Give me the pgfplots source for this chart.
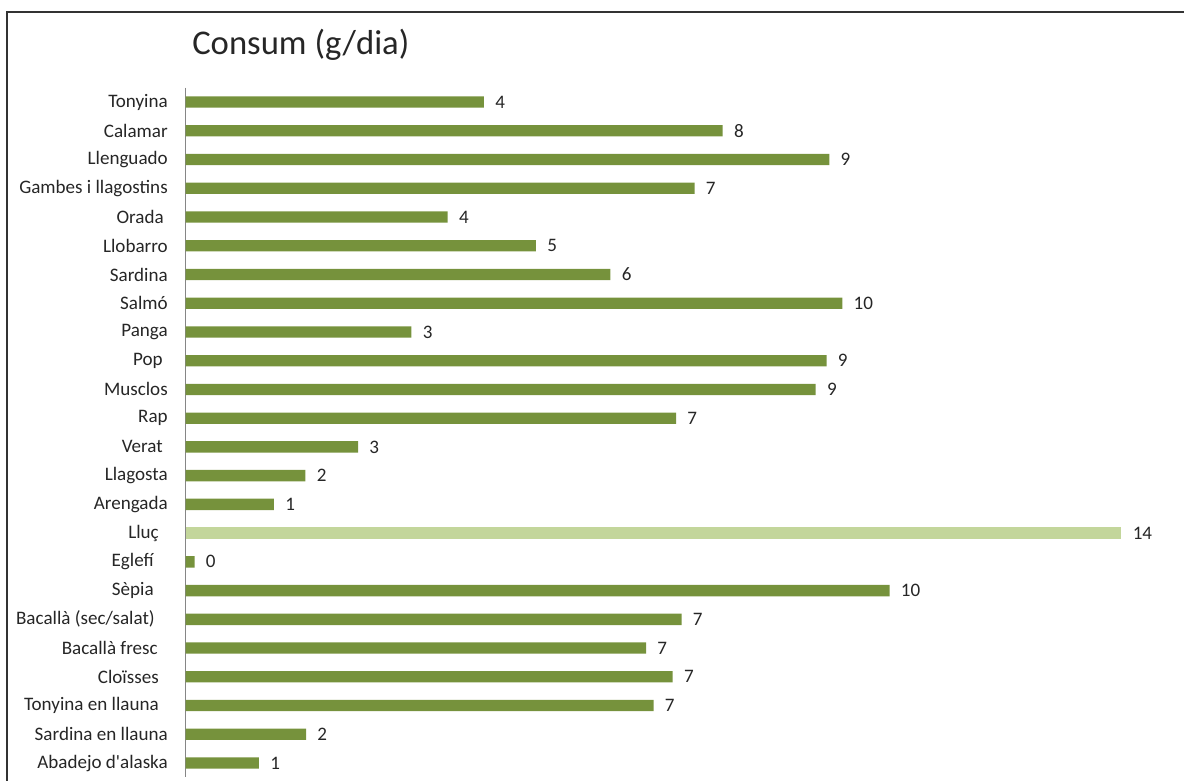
\documentclass[border=0pt]{standalone}
\usepackage{pgfplots}
\usepackage{pgfplotstable}
\pgfplotsset{compat=1.18}
\usepackage{fontspec}
\setmainfont{Carlito}

\definecolor{barolive}{HTML}{76923C}
\definecolor{barlight}{HTML}{C3D69B}
\definecolor{axisgray}{HTML}{868686}
\definecolor{txt}{HTML}{262626}

% Consum diari (g/dia) per espècie; idx 0 = fila superior
\pgfplotstableread{
idx value
0  4.36
1  7.85
2  9.41
3  7.44
4  3.83
5  5.12
6  6.21
7  9.60
8  3.30
9  9.37
10 9.21
11 7.17
12 2.52
13 1.75
14 1.29
16 0.13
17 10.29
18 7.25
19 6.73
20 7.12
21 6.84
22 1.76
23 1.07
}\consum

% Lluç, destacat amb un verd més clar
\pgfplotstableread{
idx value
15 13.68
}\lluc

\begin{document}
\begin{tikzpicture}
\useasboundingbox (0,0) rectangle (888pt,585.75pt);
\draw[line width=1.1pt, black!80] (5.25pt,0pt) -- (5.25pt,576.75pt) -- (888pt,576.75pt);
\node[anchor=base west, inner sep=0pt, text=txt, font=\fontsize{26}{30}\selectfont]
  at (144pt,544.5pt) {Consum (g/dia)};
\begin{axis}[
  at={(139.3pt,2.7pt)}, anchor=south west,
  scale only axis,
  width=730.5pt, height=517.3pt,
  xmin=0, xmax=14.24,
  ymin=-0.5, ymax=23.5,
  y dir=reverse,
  xbar, bar width=8.5pt, bar shift=0pt,
  axis x line=none,
  axis y line*=left,
  y axis line style={-, draw=axisgray, line width=0.75pt},
  ytick={0,...,23},
  yticklabels={Tonyina, Calamar, Llenguado, Gambes i llagostins,
    Orada\kern3pt, Llobarro, Sardina, Salmó, Panga, Pop\kern3.75pt,
    Musclos, Rap, Verat\kern3.75pt, Llagosta, Arengada, Lluç\kern6.75pt,
    Eglefí\kern10.5pt, Sèpia\kern10.5pt,
    Bacallà (sec/salat)\kern9.75pt, Bacallà fresc\kern7.5pt,
    Cloïsses\kern6.75pt, Tonyina en llauna\kern6.75pt,
    Sardina en llauna, Abadejo d\textquotesingle alaska},
  major tick length=0pt,
  yticklabel style={font=\fontsize{14.3}{16}\selectfont, text=txt,
    inner sep=0pt, xshift=-13.3pt},
  point meta=x,
  nodes near coords={\pgfmathprintnumber[fixed,precision=0,assume math mode=true]{\pgfplotspointmeta}},
  nodes near coords style={font=\fontsize{14.3}{16}\selectfont, text=txt,
    anchor=west, inner sep=0pt, xshift=8.3pt},
  clip=false,
]
\addplot[draw=none, fill=barolive] table[x=value, y=idx] {\consum};
\addplot[draw=none, fill=barlight] table[x=value, y=idx] {\lluc};
\end{axis}
\end{tikzpicture}
\end{document}
